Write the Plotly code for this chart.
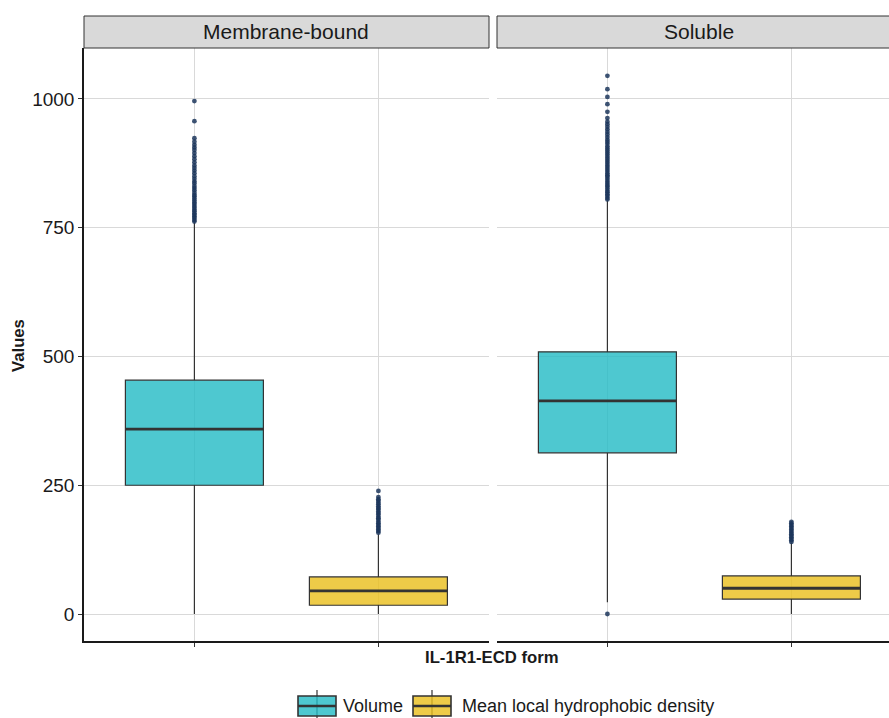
import plotly.graph_objects as go

# Facets, measures and per-facet box statistics
facets = ["Membrane-bound", "Soluble"]
measures = ["Volume", "Mean local hydrophobic density"]
positions = [1, 2]

q1_vals = [[250, 17], [313, 29]]
median_vals = [[359, 45], [414, 50]]
q3_vals = [[454, 72], [509, 74]]
lower_vals = [[0, 0], [23, 0]]
upper_vals = [[760, 155], [803, 138]]

# Outlying observations per facet / measure
outliers_mb_volume = [762, 765, 769, 772, 775, 778, 782, 785, 789, 792, 796, 799, 803, 807,
                      811, 814, 818, 823, 827, 831, 836, 840, 845, 850, 856, 861, 866, 871,
                      877, 883, 889, 895, 901, 906, 911, 917, 924, 957, 996]
outliers_mb_hydro = [158, 161, 164, 167, 170, 173, 176, 179, 183, 186, 189, 193, 196, 199,
                     203, 206, 209, 213, 216, 220, 223, 227, 239]
outliers_sol_volume = [0, 805, 808, 812, 815, 819, 822, 826, 830, 833, 837, 841, 845, 849,
                       852, 856, 860, 864, 868, 872, 876, 880, 884, 888, 892, 896, 900, 904,
                       908, 913, 917, 921, 926, 931, 936, 941, 946, 951, 956, 963, 975, 990,
                       1004, 1019, 1045]
outliers_sol_hydro = [140, 143, 146, 149, 152, 155, 158, 161, 164, 167, 170, 173, 176, 179]
outliers = [[outliers_mb_volume, outliers_mb_hydro], [outliers_sol_volume, outliers_sol_hydro]]

y_ticks = [0, 250, 500, 750, 1000]

fills = ["rgba(34,186,196,0.8)", "rgba(234,190,26,0.8)"]
edge = "#333333"
point_color = "rgba(28,54,92,0.85)"
box_width = 0.75
font_family = "Liberation Sans, Arial, sans-serif"

W, H = 889, 718
panel_px = [(84, 489), (497, 889)]
px_per_unit = 184.0
top_px, bottom_px = 48, 641
strip_top_px = 16


def px_x(p):
    return p / W


def px_y(p):
    return 1 - p / H


fig = go.Figure()
axis_ids = ["x", "x2"]

for f, facet in enumerate(facets):
    xa = axis_ids[f]
    for m, measure in enumerate(measures):
        pos = positions[m]
        fig.add_trace(go.Box(
            x=[pos], q1=[q1_vals[f][m]], median=[median_vals[f][m]], q3=[q3_vals[f][m]],
            lowerfence=[lower_vals[f][m]], upperfence=[upper_vals[f][m]],
            orientation="v", width=box_width, whiskerwidth=0, boxpoints=False,
            fillcolor=fills[m], line=dict(color=edge, width=1.2),
            name=measure, showlegend=False,
            xaxis=xa, yaxis="y", hoverinfo="skip",
        ))
        # thicker median bar
        fig.add_trace(go.Scatter(
            x=[pos - box_width / 2, pos + box_width / 2],
            y=[median_vals[f][m], median_vals[f][m]],
            mode="lines", line=dict(color=edge, width=2.8),
            showlegend=False, xaxis=xa, yaxis="y", hoverinfo="skip",
        ))
        pts = outliers[f][m]
        fig.add_trace(go.Scatter(
            x=[pos] * len(pts), y=pts, mode="markers",
            marker=dict(size=4.8, color=point_color, line=dict(width=0)),
            showlegend=False, xaxis=xa, yaxis="y", hoverinfo="skip",
        ))

y_lo = -52.4
y_hi = 1099

common_x = dict(
    tickvals=positions, showticklabels=False, ticks="outside", ticklen=4,
    tickcolor=edge, showgrid=True, gridcolor="#D9D9D9", gridwidth=1,
    zeroline=False, showline=True, linecolor="#1a1a1a", linewidth=1.5,
    anchor="y", fixedrange=True,
)
dom1 = [px_x(panel_px[0][0]), px_x(panel_px[0][1])]
dom2 = [px_x(panel_px[1][0]), px_x(panel_px[1][1])]
range1 = [0.4, 0.4 + (panel_px[0][1] - panel_px[0][0]) / px_per_unit]
range2 = [0.4, 0.4 + (panel_px[1][1] - panel_px[1][0]) / px_per_unit]

fig.update_layout(
    width=W, height=H,
    margin=dict(l=0, r=0, t=0, b=0, autoexpand=False),
    paper_bgcolor="white", plot_bgcolor="white",
    font=dict(family=font_family, color="#1a1a1a"),
    xaxis=dict(domain=dom1, range=range1, **common_x),
    xaxis2=dict(domain=dom2, range=range2, **common_x),
    yaxis=dict(
        domain=[px_y(bottom_px), px_y(top_px)], range=[y_lo, y_hi],
        tickvals=y_ticks, ticks="outside", ticklen=4, tickcolor=edge,
        tickfont=dict(size=19, color="#1a1a1a"),
        showgrid=True, gridcolor="#D9D9D9", gridwidth=1, zeroline=False,
        showline=True, linecolor="#1a1a1a", linewidth=1.5, anchor="x",
        automargin=False, fixedrange=True,
    ),
    showlegend=False,
)

# facet strips
for f, facet in enumerate(facets):
    xa = axis_ids[f]
    fig.add_shape(
        type="rect", xref=f"{xa} domain", yref="paper",
        x0=0, x1=1 if f == 0 else 1.03,
        y0=px_y(top_px), y1=px_y(strip_top_px),
        fillcolor="#D9D9D9", line=dict(color="#333333", width=1), layer="above",
    )
    fig.add_annotation(
        x=1.5, xref=xa, y=px_y((top_px + strip_top_px) / 2), yref="paper",
        text=facet, showarrow=False, font=dict(size=21, color="#1a1a1a"),
        xanchor="center", yanchor="middle",
    )

# axis titles
fig.add_annotation(
    x=px_x(492), xref="paper", y=px_y(657), yref="paper",
    text="<b>IL-1R1-ECD form</b>", showarrow=False,
    font=dict(size=16.7, color="#1a1a1a"), xanchor="center", yanchor="middle",
)
fig.add_annotation(
    x=px_x(18), xref="paper", y=px_y(346), yref="paper",
    text="<b>Values</b>", textangle=-90, showarrow=False,
    font=dict(size=16.7, color="#1a1a1a"), xanchor="center", yanchor="middle",
)

# legend: boxplot-style keys with labels
legend_keys = [(298, 336, 341), (413, 451, 460)]
key_top, key_mid, key_bot = 696, 706, 716
for m, measure in enumerate(measures):
    x0, x1, tx = legend_keys[m]
    xc = (x0 + x1) / 2
    fig.add_shape(type="line", xref="paper", yref="paper",
                  x0=px_x(xc), x1=px_x(xc), y0=px_y(key_top - 6), y1=px_y(718),
                  line=dict(color=edge, width=1.2))
    fig.add_shape(type="rect", xref="paper", yref="paper",
                  x0=px_x(x0), x1=px_x(x1), y0=px_y(key_bot), y1=px_y(key_top),
                  fillcolor=fills[m], line=dict(color=edge, width=1.6))
    fig.add_shape(type="line", xref="paper", yref="paper",
                  x0=px_x(x0), x1=px_x(x1), y0=px_y(key_mid), y1=px_y(key_mid),
                  line=dict(color=edge, width=2.4))
    fig.add_annotation(
        x=px_x(tx), xref="paper", y=px_y(key_mid), yref="paper",
        text=measure, showarrow=False, font=dict(size=18, color="#1a1a1a"),
        xanchor="left", yanchor="middle",
    )

fig.write_html("out.html")
